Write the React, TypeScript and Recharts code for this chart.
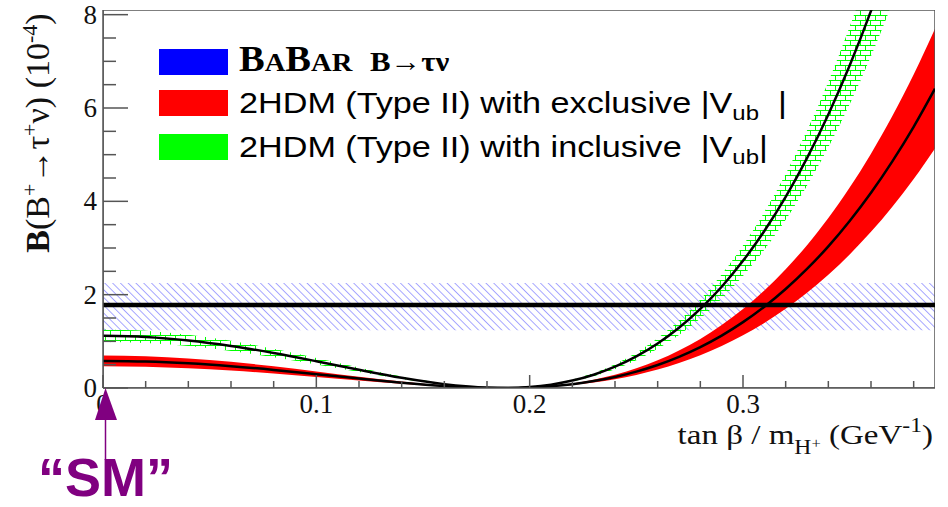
import { ComposedChart, Area, Line, XAxis, YAxis, ReferenceArea, ReferenceLine } from 'recharts'

// tan(beta)/m_H+ sample points (GeV^-1)
const xs = [0, 0.02, 0.04, 0.06, 0.08, 0.1, 0.12, 0.14, 0.16, 0.17, 0.18, 0.19, 0.2, 0.21, 0.22, 0.23, 0.24, 0.25, 0.26, 0.27, 0.28, 0.29, 0.3, 0.31, 0.32, 0.33, 0.34, 0.35, 0.36, 0.37, 0.38, 0.39]

// 2HDM with exclusive |Vub| (red)
const exclMid = [0.58, 0.567, 0.528, 0.467, 0.388, 0.297, 0.202, 0.114, 0.043, 0.018, 0.004, 0.0, 0.011, 0.038, 0.082, 0.148, 0.236, 0.351, 0.493, 0.668, 0.877, 1.123, 1.411, 1.742, 2.121, 2.551, 3.035, 3.579, 4.184, 4.857, 5.598, 6.415]
const exclLo = [0.464, 0.454, 0.422, 0.374, 0.31, 0.238, 0.162, 0.091, 0.034, 0.014, 0.003, 0.0, 0.009, 0.03, 0.066, 0.118, 0.189, 0.281, 0.394, 0.534, 0.702, 0.898, 1.129, 1.394, 1.697, 2.041, 2.428, 2.863, 3.347, 3.886, 4.478, 5.132]
const exclHi = [0.696, 0.68, 0.634, 0.56, 0.466, 0.356, 0.242, 0.137, 0.052, 0.022, 0.005, 0.0, 0.013, 0.046, 0.098, 0.178, 0.283, 0.421, 0.592, 0.802, 1.052, 1.348, 1.693, 2.09, 2.545, 3.061, 3.642, 4.295, 5.021, 5.828, 6.718, 7.698]

// 2HDM with inclusive |Vub| (green)
const inclMid = [1.12, 1.095, 1.02, 0.902, 0.749, 0.574, 0.39, 0.219, 0.083, 0.036, 0.007, 0.001, 0.021, 0.072, 0.159, 0.285, 0.456, 0.677, 0.953, 1.29, 1.694, 2.17, 2.725, 3.365, 4.096, 4.926, 5.862, 6.911, 8.08, 9.378, 10.811, 12.389]
const inclLo = [0.986, 0.964, 0.898, 0.794, 0.659, 0.505, 0.343, 0.193, 0.073, 0.032, 0.006, 0.001, 0.018, 0.063, 0.14, 0.251, 0.401, 0.596, 0.839, 1.135, 1.491, 1.91, 2.398, 2.961, 3.604, 4.335, 5.159, 6.082, 7.11, 8.253, 9.514, 10.902]
const inclHi = [1.254, 1.226, 1.142, 1.01, 0.839, 0.643, 0.437, 0.245, 0.093, 0.04, 0.008, 0.001, 0.024, 0.081, 0.178, 0.319, 0.511, 0.758, 1.067, 1.445, 1.897, 2.43, 3.052, 3.769, 4.588, 5.517, 6.565, 7.74, 9.05, 10.503, 12.108, 13.876]

// BaBar B -> tau nu measurement
const babarCentral = 1.78
const babarLo = 1.24
const babarHi = 2.25

const yTicks = [0, 0.5, 1, 1.5, 2, 2.5, 3, 3.5, 4, 4.5, 5, 5.5, 6, 6.5, 7, 7.5, 8]
const xTicks = [0, 0.02, 0.04, 0.06, 0.08, 0.1, 0.12, 0.14, 0.16, 0.18, 0.2, 0.22, 0.24, 0.26, 0.28, 0.3, 0.32, 0.34, 0.36, 0.38]
const xLabels = ['0', '0.1', '0.2', '0.3']

const data = xs.map((x, i) => ({
  x,
  exclMid: exclMid[i],
  exclBand: [exclLo[i], exclHi[i]],
  inclMid: inclMid[i],
  inclBand: [inclLo[i], inclHi[i]],
}))

const PLOT_LEFT = 103
const PLOT_BOTTOM = 388
const AXIS = '#555'
const SERIF = '"Liberation Serif", "Times New Roman", serif'
const SANS = '"Liberation Sans", Arial, sans-serif'

function YTick({ y, payload }: any) {
  const v = payload.value
  const major = v % 2 === 0
  return (
    <g>
      <line x1={PLOT_LEFT} x2={PLOT_LEFT + (major ? 25 : 13)} y1={y} y2={y} stroke={AXIS} strokeWidth={1.5} />
      {major && (
        <text x={97} y={y} dy={9} textAnchor="end" style={{ fontFamily: SERIF }} fontSize={27} fill="#111">{v}</text>
      )}
    </g>
  )
}

function XTick({ x, payload }: any) {
  const v = payload.value
  const label = xLabels.find(l => Math.abs(Number(l) - v) < 1e-6)
  return (
    <g>
      <line x1={x} x2={x} y1={PLOT_BOTTOM} y2={PLOT_BOTTOM - (label ? 13 : 7)} stroke={AXIS} strokeWidth={1.5} />
      {label && (
        <text x={x} y={PLOT_BOTTOM + 25} textAnchor="middle" style={{ fontFamily: SERIF }} fontSize={27} fill="#111">{label}</text>
      )}
    </g>
  )
}

export default function App() {
  return (
    <div style={{ position: 'absolute', left: 0, top: 0, width: 948, height: 507, background: '#fff', overflow: 'hidden' }}>
      <svg width={0} height={0} style={{ position: 'absolute' }}>
        <defs>
          <pattern id="hatch" patternUnits="userSpaceOnUse" width={5.5} height={5.5} patternTransform="rotate(-45)">
            <line x1={0.5} y1={0} x2={0.5} y2={5.5} stroke="#9090ff" strokeWidth={0.8} />
          </pattern>
          <pattern id="brick" patternUnits="userSpaceOnUse" width={10} height={10}>
            <line x1={0} y1={0.5} x2={10} y2={0.5} stroke="#00ff00" strokeWidth={1} />
            <line x1={0} y1={5.5} x2={10} y2={5.5} stroke="#00ff00" strokeWidth={1} />
            <line x1={0.5} y1={0} x2={0.5} y2={5.5} stroke="#00ff00" strokeWidth={1} />
            <line x1={5.5} y1={5.5} x2={5.5} y2={10} stroke="#00ff00" strokeWidth={1} />
          </pattern>
        </defs>
      </svg>

      <ComposedChart width={948} height={507} data={data} margin={{ top: 10, right: 13, bottom: 0, left: 0 }}>
        <XAxis
          dataKey="x"
          type="number"
          domain={[0, 0.39]}
          ticks={xTicks}
          interval={0}
          allowDataOverflow
          height={119}
          axisLine={{ stroke: AXIS, strokeWidth: 1.5 }}
          tickLine={false}
          tick={<XTick />}
        />
        <YAxis
          type="number"
          domain={[0, 8.1]}
          ticks={yTicks}
          interval={0}
          allowDataOverflow
          width={103}
          axisLine={{ stroke: AXIS, strokeWidth: 1.5 }}
          tickLine={false}
          tick={<YTick />}
        />
        <ReferenceArea y1={babarLo} y2={babarHi} fill="url(#hatch)" fillOpacity={1} stroke="none" ifOverflow="hidden" />
        <Area dataKey="exclBand" type="monotone" fill="#ff0000" fillOpacity={1} stroke="none" isAnimationActive={false} activeDot={false} />
        <Area dataKey="inclBand" type="monotone" fill="url(#brick)" fillOpacity={1} stroke="none" isAnimationActive={false} activeDot={false} />
        <ReferenceLine y={babarCentral} stroke="#000" strokeWidth={4.5} />
        <Line dataKey="exclMid" type="monotone" stroke="#000" strokeWidth={2.5} dot={false} activeDot={false} isAnimationActive={false} />
        <Line dataKey="inclMid" type="monotone" stroke="#000" strokeWidth={2.5} dot={false} activeDot={false} isAnimationActive={false} />
        <ReferenceArea x1={0} x2={0.39} y1={0} y2={8.1} fill="none" stroke={AXIS} strokeWidth={1.5} ifOverflow="hidden" />
      </ComposedChart>

      <svg width={948} height={507} style={{ position: 'absolute', left: 0, top: 0, pointerEvents: 'none' }}>
        {/* y axis title */}
        <text transform="translate(49,133) rotate(-90)" textAnchor="middle" fontFamily={SERIF} fontSize={34} fill="#111">
          <tspan fontWeight="bold">B</tspan>(B<tspan dy={-12} fontSize={22}>+</tspan><tspan dy={12}>→τ</tspan><tspan dy={-12} fontSize={22}>+</tspan><tspan dy={12}>ν) (10</tspan><tspan dy={-12} fontSize={22}>-4</tspan><tspan dy={12}>)</tspan>
        </text>

        {/* x axis title */}
        <g transform="translate(933,444) scale(1.18,1)">
          <text x={0} y={0} textAnchor="end" fontFamily={SERIF} fontSize={28} fill="#111">
            tan β / m<tspan dy={10} fontSize={20}>H</tspan><tspan dy={-6} fontSize={14}>+</tspan><tspan dy={-4}> (GeV</tspan><tspan dy={-12} fontSize={20}>-1</tspan><tspan dy={12}>)</tspan>
          </text>
        </g>

        {/* legend */}
        <rect x={159} y={49} width={69} height={26} fill="#0000ff" />
        <rect x={159} y={90} width={69} height={26} fill="#ff0000" />
        <rect x={159} y={134} width={69} height={26} fill="#00ff00" />
        <g transform="translate(239,71) scale(1.1,1)">
          <text x={0} y={0} fontFamily={SERIF} fontWeight="bold" fill="#000">
            <tspan fontSize={35}>B</tspan><tspan fontSize={26}>A</tspan><tspan fontSize={35}>B</tspan><tspan fontSize={26}>AR</tspan><tspan fontSize={28} dx={16}>B→τν</tspan>
          </text>
        </g>
        <g transform="translate(239,113) scale(1.14,1)">
          <text x={0} y={0} fontFamily={SANS} fontSize={30} fill="#000">
            2HDM (Type II) with exclusive |V<tspan dy={7} fontSize={21}>ub</tspan><tspan dy={-7}>{'\u00a0\u00a0|'}</tspan>
          </text>
        </g>
        <g transform="translate(239,157) scale(1.14,1)">
          <text x={0} y={0} fontFamily={SANS} fontSize={30} fill="#000">
            2HDM (Type II) with inclusive {'\u00a0'}|V<tspan dy={7} fontSize={21}>ub</tspan><tspan dy={-7}>|</tspan>
          </text>
        </g>

        {/* SM marker */}
        <polygon points="105.5,388 95,420 117,420" fill="#800080" />
        <line x1={105.5} x2={105.5} y1={420} y2={460} stroke="#800080" strokeWidth={1.5} />
        <text x={38} y={496} fontFamily={SANS} fontWeight="bold" fontSize={54} fill="#800080">“SM”</text>
      </svg>
    </div>
  )
}
